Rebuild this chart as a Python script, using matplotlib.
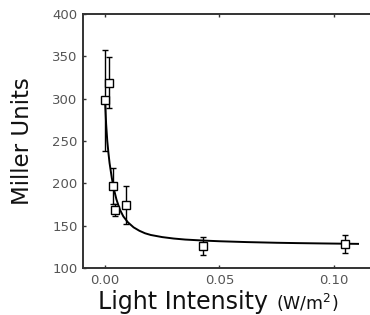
import matplotlib
matplotlib.use("Agg")
import matplotlib.pyplot as plt

# measured points (light intensity W/m^2, Miller units, error)
light = [0.0000, 0.0019, 0.0036, 0.0044, 0.0090, 0.0427, 0.1048]
miller = [298, 319, 197, 168.5, 174.5, 126, 128.5]
err = [60, 30, 21, 7, 22, 10.5, 11]

# fitted curve
curve_x = [0.0, 0.0005, 0.001, 0.0015, 0.002, 0.003, 0.004, 0.005, 0.0065,
           0.008, 0.010, 0.0125, 0.015, 0.0175, 0.02, 0.025, 0.03, 0.035,
           0.043, 0.05, 0.062, 0.075, 0.084, 0.095, 0.1105]
curve_y = [300, 270, 250, 236, 224, 206, 192, 181, 169,
           161, 154, 148, 144, 141, 139, 136.5, 134.8, 133.6,
           132.4, 131.6, 130.6, 129.8, 129.4, 129.0, 128.5]

xticks = [0.0, 0.05, 0.10]
xticklabels = ['0.00', '0.05', '0.10']
yticks = [100, 150, 200, 250, 300, 350, 400]

fig = plt.figure(figsize=(3.7, 3.15), dpi=100)
ax = fig.add_axes([83/370, 47/315, 289/370, 254/315])

ax.plot(curve_x, curve_y, color='black', lw=1.4)
ax.errorbar(light, miller, yerr=err, fmt='s', mfc='white', mec='black',
            ms=6.3, mew=1, ecolor='black', elinewidth=1, capsize=2.5, zorder=3)

ax.set_xlim(-0.0096, 0.1166)
ax.set_ylim(100, 400)
ax.set_xticks(xticks)
ax.set_xticklabels(xticklabels)
ax.set_yticks(yticks)

for s in ['left', 'bottom', 'top']:
    ax.spines[s].set_color('#333333')
    ax.spines[s].set_linewidth(1.4)
ax.spines['right'].set_visible(False)

ax.tick_params(direction='in', length=2.5, width=1, color='#333333',
               labelsize=9.5, labelcolor='#555555', top=True, pad=4)

ax.set_ylabel('Miller Units', fontsize=16.5, color='#111111')
ax.yaxis.set_label_coords(-0.17, 0.5)

t1 = fig.text(98/370, 1 - 309/315, 'Light Intensity', fontsize=17,
              color='#111111', ha='left', va='baseline')
ax.annotate('(W/m$^2$)', xy=(1, 0), xycoords=t1, xytext=(6, 0),
            textcoords='offset points', fontsize=12.5, color='#111111',
            ha='left', va='bottom')

fig.savefig('out.png', dpi=100)
